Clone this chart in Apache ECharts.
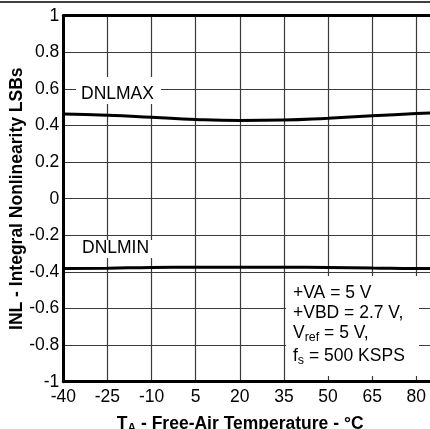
<!DOCTYPE html>
<html>
<head>
<meta charset="utf-8">
<script src="https://cdn.jsdelivr.net/npm/echarts@6/dist/echarts.min.js"></script>
<style>
html,body{margin:0;padding:0;background:#fff;}
#c{width:430px;height:429px;}
</style>
</head>
<body>
<div id="c"></div>
<script>
// Data
var temps = [-40, -25, -10, 5, 20, 35, 50, 65, 80, 85];
var dnlMax = [0.463, 0.456, 0.445, 0.433, 0.428, 0.430, 0.440, 0.453, 0.465, 0.468];
var dnlMin = [-0.382, -0.380, -0.376, -0.375, -0.375, -0.375, -0.376, -0.379, -0.382, -0.382];
var xTicks = [-40, -25, -10, 5, 20, 35, 50, 65, 80];
var yTicks = [-1, -0.8, -0.6, -0.4, -0.2, 0, 0.2, 0.4, 0.6, 0.8, 1];
var conditions = ['+VA = 5 V', '+VBD = 2.7 V,', 'V{sub|ref} = 5 V,', 'f{sub|s} = 500 KSPS'];

var FONT = '"Liberation Sans", Arial, sans-serif';
var FS = 17.5;
var chart = echarts.init(document.getElementById('c'), null, {renderer: 'canvas'});

function pairs(xs, ys) { return xs.map(function (x, i) { return [x, ys[i]]; }); }

var condText = conditions.map(function (t, i) {
  var ys = [294, 314, 334, 357];
  return {
    type: 'text', z: 10, left: 293, top: ys[i] - 10,
    style: {
      text: t, fill: '#000', font: FS + 'px ' + FONT,
      rich: { sub: { fontSize: 12.5, fontFamily: FONT, verticalAlign: 'bottom', padding: [9, 0, 0, 0] } }
    }
  };
});

chart.setOption({
  animation: false,
  backgroundColor: '#fff',
  grid: { left: 63.3, top: 15.7, right: -1, bottom: 47.3, containLabel: false, outerBoundsMode: 'none' },
  xAxis: [{
    type: 'value', min: -40, max: 85, interval: 15, position: 'bottom',
    axisLine: { show: true, onZero: false, lineStyle: { color: '#000', width: 3 } },
    axisTick: { show: false },
    splitLine: { show: true, lineStyle: { color: '#3a3a3a', width: 1.2 } },
    axisLabel: {
      color: '#000', fontSize: FS, fontFamily: FONT, margin: 6,
      formatter: function (v) { return xTicks.indexOf(v) >= 0 ? String(v) : ''; }
    },
    name: 'T{sub|A} - Free-Air Temperature - °C',
    nameLocation: 'middle', nameGap: 32, nameMoveOverlap: false,
    nameTextStyle: {
      color: '#000', fontSize: FS, fontWeight: 'bold', fontFamily: FONT, padding: [0, 14, 0, 0],
      rich: { sub: { fontSize: 12, fontWeight: 'bold', fontFamily: FONT, verticalAlign: 'bottom', padding: [9, 0, 0, 0] } }
    }
  }, {
    type: 'value', min: -40, max: 85, position: 'top',
    axisLine: { show: true, onZero: false, lineStyle: { color: '#000', width: 3 } },
    axisTick: { show: false }, axisLabel: { show: false }, splitLine: { show: false }
  }],
  yAxis: {
    type: 'value', min: -1, max: 1, interval: 0.2,
    axisLine: { show: true, onZero: false, lineStyle: { color: '#000', width: 3 } },
    axisTick: { show: false },
    splitLine: { show: true, lineStyle: { color: '#3a3a3a', width: 1.2 } },
    axisLabel: {
      color: '#000', fontSize: FS, fontFamily: FONT, margin: 4,
      formatter: function (v) {
        var r = Math.round(v * 10) / 10;
        return String(r);
      }
    },
    name: 'INL - Integral Nonlinearity LSBs',
    nameLocation: 'middle', nameGap: 37, nameMoveOverlap: false,
    nameTextStyle: { color: '#000', fontSize: FS, fontWeight: 'bold', fontFamily: FONT }
  },
  series: [{
    name: 'DNLMAX', type: 'line', smooth: true, showSymbol: false,
    data: pairs(temps, dnlMax), lineStyle: { color: '#000', width: 3 }, z: 5
  }, {
    name: 'DNLMIN', type: 'line', smooth: true, showSymbol: false,
    data: pairs(temps, dnlMin), lineStyle: { color: '#000', width: 3 }, z: 5
  }],
  graphic: [
    { type: 'line', z: 20, shape: { x1: 0, y1: 2, x2: 430, y2: 2 }, style: { stroke: '#000', lineWidth: 1.5 } },
    { type: 'rect', z: 8, shape: { x: 76, y: 77, width: 85, height: 27 }, style: { fill: '#fff' } },
    { type: 'text', z: 10, left: 81, top: 85, style: { text: 'DNLMAX', fill: '#000', font: FS + 'px ' + FONT } },
    { type: 'rect', z: 8, shape: { x: 78, y: 240, width: 77, height: 18 }, style: { fill: '#fff' } },
    { type: 'text', z: 10, left: 82, top: 239, style: { text: 'DNLMIN', fill: '#000', font: FS + 'px ' + FONT } },
    { type: 'rect', z: 8, shape: { x: 286, y: 276, width: 133, height: 100 }, style: { fill: '#fff' } }
  ].concat(condText)
});
</script>
</body>
</html>
